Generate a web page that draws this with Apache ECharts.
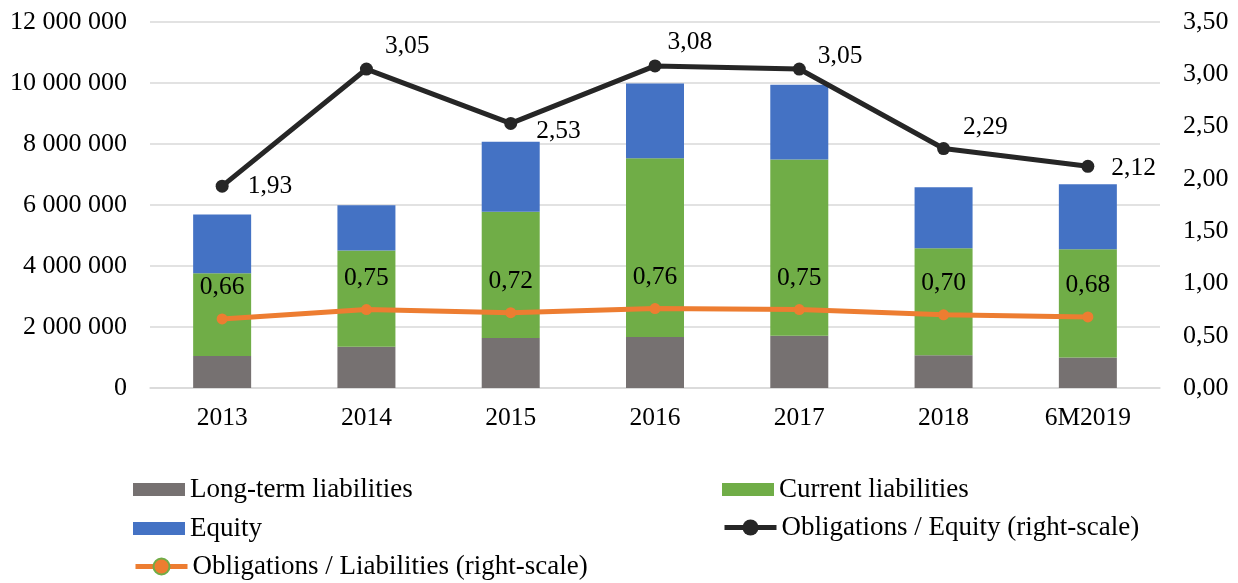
<!DOCTYPE html>
<html>
<head>
<meta charset="utf-8">
<title>Liabilities and equity</title>
<script src="https://cdn.jsdelivr.net/npm/echarts@6/dist/echarts.min.js"></script>
<style>
  html, body { margin: 0; padding: 0; background: #fff; }
  #chart { width: 1238px; height: 583px; }
</style>
</head>
<body>
<div id="chart"></div>
<script>
// data
const categories = ['2013', '2014', '2015', '2016', '2017', '2018', '6M2019']
const longTerm = [1050000, 1350000, 1640000, 1670000, 1710000, 1070000, 1000000]
const current = [2710000, 3160000, 4140000, 5860000, 5780000, 3510000, 3550000]
const equity = [1930000, 1480000, 2290000, 2450000, 2450000, 2000000, 2130000]
const oblEquity = [1.93, 3.05, 2.53, 3.08, 3.05, 2.29, 2.12]
const oblLiab = [0.66, 0.75, 0.72, 0.76, 0.75, 0.70, 0.68]

// label nudges for the black line (px)
const oblEquityOffsets = [[14, 0], [7, -23], [14, 8], [1, -24], [7, -13], [8, -21], [12, 2]]

const FONT = '"Liberation Serif", "Times New Roman", serif'
const GREY = '#767171', GREEN = '#70AD47', BLUE = '#4472C4', BLACK = '#262626', ORANGE = '#ED7D31'

function fmtSpace(v) {
  return String(v).replace(/\B(?=(\d{3})+(?!\d))/g, ' ')
}
function fmtComma(v) {
  return v.toFixed(2).replace('.', ',')
}

const chart = echarts.init(document.getElementById('chart'))

function legendAt(name, left, top, extra) {
  return Object.assign({
    data: [name],
    left: left,
    top: top,
    padding: 0,
    itemWidth: 52,
    itemHeight: 13,
    icon: 'rect',
    textStyle: { fontFamily: FONT, fontSize: 27, color: '#000' },
    selectedMode: false
  }, extra || {})
}

chart.setOption({
  animation: false,
  textStyle: { fontFamily: FONT },
  grid: { left: 150, right: 78, top: 22, bottom: 195 },
  legend: [
    legendAt('Long-term liabilities', 133, 476),
    legendAt('Current liabilities', 722, 476),
    legendAt('Equity', 133, 515),
    legendAt('Obligations / Equity (right-scale)', 722, 514, {
      icon: null, itemHeight: 20, lineStyle: { width: 5 }
    }),
    legendAt('Obligations / Liabilities (right-scale)', 133, 553, {
      icon: null, itemHeight: 20, lineStyle: { width: 5 },
      data: [{ name: 'Obligations / Liabilities (right-scale)', itemStyle: { borderColor: GREEN, borderWidth: 2 } }]
    })
  ],
  xAxis: {
    type: 'category',
    data: categories,
    axisTick: { show: false },
    axisLine: { lineStyle: { color: '#D9D9D9', width: 1.5 } },
    axisLabel: { fontFamily: FONT, fontSize: 25.5, color: '#000', margin: 17 }
  },
  yAxis: [
    {
      type: 'value',
      min: 0, max: 12000000, interval: 2000000,
      axisLine: { show: false },
      axisTick: { show: false },
      splitLine: { lineStyle: { color: '#D9D9D9', width: 1.5 } },
      axisLabel: { fontFamily: FONT, fontSize: 26, color: '#000', margin: 23, formatter: fmtSpace }
    },
    {
      type: 'value',
      min: 0, max: 3.5, interval: 0.5,
      axisLine: { show: false },
      axisTick: { show: false },
      splitLine: { show: false },
      axisLabel: { fontFamily: FONT, fontSize: 26, color: '#000', margin: 23, formatter: fmtComma }
    }
  ],
  series: [
    { name: 'Long-term liabilities', type: 'bar', stack: 'total', barWidth: 58, data: longTerm, itemStyle: { color: GREY } },
    { name: 'Current liabilities', type: 'bar', stack: 'total', barWidth: 58, data: current, itemStyle: { color: GREEN } },
    { name: 'Equity', type: 'bar', stack: 'total', barWidth: 58, data: equity, itemStyle: { color: BLUE } },
    {
      name: 'Obligations / Equity (right-scale)',
      type: 'line',
      yAxisIndex: 1,
      symbol: 'circle',
      symbolSize: 13,
      lineStyle: { color: BLACK, width: 5 },
      itemStyle: { color: BLACK },
      data: oblEquity.map((v, i) => ({
        value: v,
        label: { offset: oblEquityOffsets[i] }
      })),
      label: {
        show: true,
        position: 'right',
        fontFamily: FONT,
        fontSize: 25.5,
        color: '#000',
        formatter: p => fmtComma(p.value)
      },
      z: 5
    },
    {
      name: 'Obligations / Liabilities (right-scale)',
      type: 'line',
      yAxisIndex: 1,
      symbol: 'circle',
      symbolSize: 11,
      lineStyle: { color: ORANGE, width: 5 },
      itemStyle: { color: ORANGE },
      data: oblLiab,
      label: {
        show: true,
        position: 'top',
        distance: 13,
        fontFamily: FONT,
        fontSize: 25.5,
        color: '#000',
        formatter: p => fmtComma(p.value)
      },
      z: 5
    }
  ]
})
</script>
</body>
</html>
